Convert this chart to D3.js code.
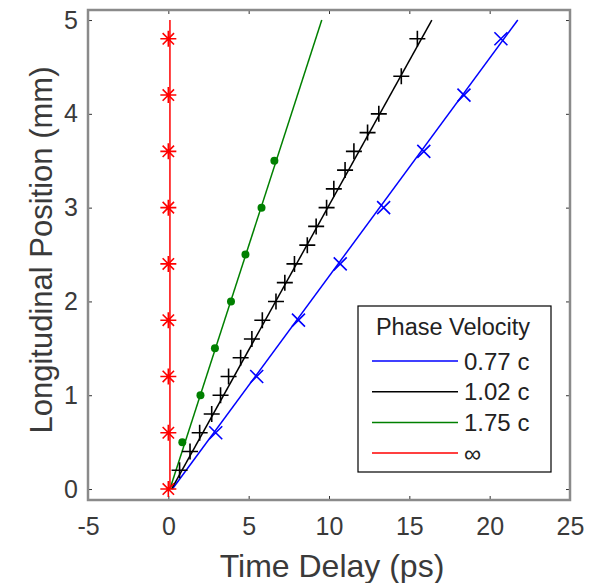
<!DOCTYPE html>
<html>
<head>
<meta charset="utf-8">
<script src="https://cdn.jsdelivr.net/npm/d3@7"></script>
<style>
  body { margin: 0; background: #fff; }
  text { font-family: "Liberation Sans", Arial, sans-serif; }
</style>
</head>
<body>
<div id="chart"></div>
<script>
// Data (time delay in ps, position in mm)
var blueY = [0.6, 1.2, 1.8, 2.4, 3.0, 3.6, 4.2, 4.8];
var blueT = [2.95, 5.5, 8.1, 10.7, 13.4, 15.9, 18.4, 20.7];

var blackY = [0.2, 0.4, 0.6, 0.8, 1.0, 1.2, 1.4, 1.6, 1.8, 2.0, 2.2, 2.4, 2.6, 2.8, 3.0, 3.2, 3.4, 3.6, 3.8, 4.0, 4.4, 4.8];
var blackT = [0.7, 1.35, 1.95, 2.7, 3.25, 3.75, 4.5, 5.2, 5.85, 6.7, 7.25, 7.85, 8.65, 9.2, 9.85, 10.3, 11.0, 11.55, 12.4, 13.1, 14.5, 15.5];

var greenY = [0.5, 1.0, 1.5, 2.0, 2.5, 3.0, 3.5];
var greenT = [0.87, 2.0, 2.9, 3.9, 4.8, 5.8, 6.6];

var redY = [0, 0.6, 1.2, 1.8, 2.4, 3.0, 3.6, 4.2, 4.8];
var redT = [0, 0, 0, 0, 0, 0, 0, 0, 0];

// fitted lines, start and end
var fitY = [0, 5];
var blueFit = [0.25, 21.75];
var blackFit = [0.2, 16.4];
var greenFit = [0.1, 9.55];
var redFit = [0.1, 0.1];

var legendLabels = ["0.77 c", "1.02 c", "1.75 c", "\u221E"];
var xTicks = [-5, 0, 5, 10, 15, 20, 25];
var yTicks = [0, 1, 2, 3, 4, 5];

var svgWidth = 596;
var svgHeight = 583;

var margin = { top: 10, right: 26, bottom: 83, left: 88 };
var chartW = svgWidth - margin.left - margin.right;
var chartH = svgHeight - margin.top - margin.bottom;

var svg = d3.select("#chart")
  .append("svg")
  .attr("width", svgWidth)
  .attr("height", svgHeight);

var chartGrp = svg.append("g")
  .attr("transform", `translate(${margin.left}, ${margin.top})`);

var xScale = d3.scaleLinear().domain([-5, 25]).range([0, chartW]);
var yScale = d3.scaleLinear().domain([-0.117, 5.107]).range([chartH, 0]);

var axisColor = "#8a8a8a";
var textColor = "#3a3a3a";
var plain = d => String(d);

// axes with inward ticks, box on all sides
function styleAxis(g) {
  g.select(".domain").remove();
  g.selectAll(".tick line").attr("stroke", "#333").attr("stroke-width", 1);
  g.selectAll(".tick text").attr("fill", textColor).attr("font-size", "25px");
}

chartGrp.append("g")
  .attr("transform", `translate(0, ${chartH})`)
  .call(d3.axisBottom(xScale).tickValues(xTicks).tickFormat(plain).tickSizeInner(-4).tickPadding(17))
  .call(styleAxis);

chartGrp.append("g")
  .call(d3.axisTop(xScale).tickValues(xTicks).tickSizeInner(-4).tickFormat(""))
  .call(styleAxis);

chartGrp.append("g")
  .call(d3.axisLeft(yScale).tickValues(yTicks).tickFormat(plain).tickSizeInner(-4).tickPadding(10))
  .call(styleAxis);

chartGrp.append("g")
  .attr("transform", `translate(${chartW}, 0)`)
  .call(d3.axisRight(yScale).tickValues(yTicks).tickSizeInner(-4).tickFormat(""))
  .call(styleAxis);

// clip so the fitted lines stay inside the box
svg.append("clipPath").attr("id", "clip")
  .append("rect").attr("width", chartW).attr("height", chartH);

var plotGrp = chartGrp.append("g").attr("clip-path", "url(#clip)");

var line = d3.line().x(d => xScale(d[0])).y(d => yScale(d[1]));

var series = [
  { color: "#0000ff", fit: blueFit, t: blueT, y: blueY, marker: "x" },
  { color: "#000000", fit: blackFit, t: blackT, y: blackY, marker: "+" },
  { color: "#008000", fit: greenFit, t: greenT, y: greenY, marker: "o" },
  { color: "#ff0000", fit: redFit, t: redT, y: redY, marker: "*" }
];

series.forEach(function(s) {
  plotGrp.append("path")
    .attr("d", line(fitY.map((y, i) => [s.fit[i], y])))
    .attr("fill", "none")
    .attr("stroke", s.color)
    .attr("stroke-width", 1.5);
});

// markers
function drawMarker(g, kind, color) {
  var r;
  if (kind === "o") {
    g.append("circle").attr("r", 4).attr("fill", color);
    return;
  }
  var path = "";
  if (kind === "+" || kind === "*") {
    r = 8;
    path += `M${-r},0H${r}M0,${-r}V${r}`;
  }
  if (kind === "x" || kind === "*") {
    r = kind === "x" ? 6.5 : 5.7;
    path += `M${-r},${-r}L${r},${r}M${-r},${r}L${r},${-r}`;
  }
  g.append("path").attr("d", path).attr("stroke", color)
    .attr("stroke-width", 1.6).attr("fill", "none");
}

series.forEach(function(s) {
  s.t.forEach(function(t, i) {
    var g = chartGrp.append("g")
      .attr("transform", `translate(${xScale(t)}, ${yScale(s.y[i])})`);
    drawMarker(g, s.marker, s.color);
  });
});

// box
chartGrp.append("rect")
  .attr("width", chartW)
  .attr("height", chartH)
  .attr("fill", "none")
  .attr("stroke", axisColor)
  .attr("stroke-width", 2.5);

// axis titles
svg.append("text")
  .attr("x", 332)
  .attr("y", 577)
  .attr("text-anchor", "middle")
  .attr("font-size", "32px")
  .attr("fill", textColor)
  .text("Time Delay (ps)");

svg.append("text")
  .attr("transform", `translate(52, 250) rotate(-90)`)
  .attr("text-anchor", "middle")
  .attr("font-size", "31px")
  .attr("fill", textColor)
  .text("Longitudinal Position (mm)");

// legend
var legend = svg.append("g").attr("transform", "translate(358, 306)");

legend.append("rect")
  .attr("width", 193)
  .attr("height", 166)
  .attr("fill", "#fff")
  .attr("stroke", "#000")
  .attr("stroke-width", 1.2);

legend.append("text")
  .attr("x", 95)
  .attr("y", 29)
  .attr("text-anchor", "middle")
  .attr("font-size", "23.5px")
  .attr("fill", "#222")
  .text("Phase Velocity");

series.forEach(function(s, i) {
  var ly = 55 + i * 30.7;
  legend.append("line")
    .attr("x1", 14).attr("x2", 100)
    .attr("y1", ly).attr("y2", ly)
    .attr("stroke", s.color)
    .attr("stroke-width", 1.5);
  legend.append("text")
    .attr("x", 106)
    .attr("y", ly + 8.5)
    .attr("font-size", "24px")
    .attr("fill", "#222")
    .text(legendLabels[i]);
});
</script>
</body>
</html>
